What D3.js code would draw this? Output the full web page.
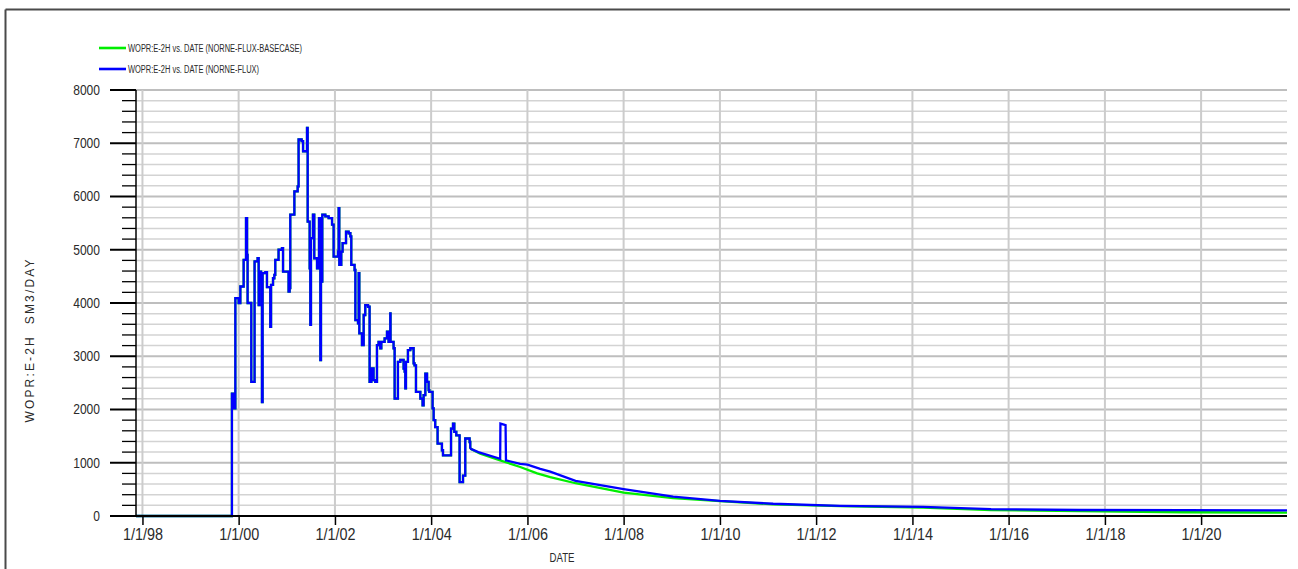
<!DOCTYPE html>
<html>
<head>
<meta charset="utf-8">
<script src="https://cdn.jsdelivr.net/npm/d3@7"></script>
<style>
  html, body { margin: 0; padding: 0; background: #fff; overflow: hidden; }
  svg { display: block; }
  text { font-family: "Liberation Sans Narrow", "Liberation Sans", Arial, sans-serif; fill: #2a2a2a; }
</style>
</head>
<body>
<svg id="chart" width="1298" height="569"></svg>
<script>
// Well E-2H oil production rate, history then forecast
const historyDates = ["1997-11-13","1999-11-11","1999-11-24","1999-12-07","2000-01-01","2000-01-14","2000-02-08","2000-02-26","2000-03-05","2000-03-09","2000-04-06","2000-05-01","2000-05-24","2000-06-01","2000-06-08","2000-06-19","2000-06-26","2000-07-01","2000-07-22","2000-08-03","2000-08-28","2000-09-03","2000-09-18","2000-09-28","2000-10-05","2000-10-30","2000-11-25","2000-12-03","2001-01-14","2001-01-22","2001-01-27","2001-02-27","2001-03-24","2001-03-31","2001-04-23","2001-05-04","2001-06-03","2001-06-08","2001-06-23","2001-06-28","2001-07-03","2001-07-18","2001-07-28","2001-08-18","2001-09-02","2001-09-12","2001-09-17","2001-09-27","2001-10-20","2001-11-14","2001-12-10","2001-12-22","2002-01-24","2002-01-29","2002-02-03","2002-02-18","2002-02-28","2002-03-26","2002-04-15","2002-04-28","2002-05-05","2002-05-30","2002-06-05","2002-06-25","2002-06-30","2002-07-05","2002-07-25","2002-08-07","2002-08-19","2002-09-09","2002-09-21","2002-10-04","2002-10-21","2002-11-03","2002-11-16","2002-11-28","2002-12-11","2002-12-19","2003-01-13","2003-01-31","2003-02-12","2003-02-25","2003-02-27","2003-03-22","2003-03-30","2003-04-24","2003-05-12","2003-06-06","2003-06-14","2003-06-19","2003-06-24","2003-07-09","2003-07-27","2003-08-21","2003-08-28","2003-09-08","2003-10-11","2003-10-28","2003-11-05","2003-11-18","2003-12-01","2003-12-13","2003-12-18","2004-01-12","2004-01-20","2004-02-01","2004-02-19","2004-03-23","2004-03-31","2004-05-31","2004-06-15","2004-06-25","2004-07-10","2004-08-04","2004-08-30","2004-09-16","2004-10-19","2004-10-24"];
const historyRates = [0,2300,2020,4090,4000,4310,4810,5595,4905,4000,2520,4780,4840,3960,4590,4400,2140,4560,4580,4300,3550,4340,4465,4530,4810,5000,5030,4590,4215,4280,5660,6095,6190,7070,7040,6850,7290,5530,4650,3590,5220,5660,4840,4650,5595,2930,4400,5660,5625,5595,5470,4870,4965,5780,4715,4965,5125,5340,5310,5250,4715,4620,3680,3620,4560,3430,3210,3775,3960,3930,2520,2770,2550,2520,3210,3270,3150,3270,3335,3460,3270,3805,3270,3150,2205,2895,2930,2770,2710,2395,2895,3115,3150,2865,2830,2330,2205,2080,2270,2675,2520,2365,2330,2020,1800,1670,1360,1235,1140,1640,1735,1580,1515,635,760,1455,1390,1265];

// NORNE-FLUX forecast
const fluxDates = ["2004-10-24","2004-12-24","2005-06-08","2005-06-10","2005-07-19","2005-07-22","2005-11-07","2006-01-01","2006-04-08","2006-06-23","2007-01-01","2008-01-01","2009-01-11","2010-01-01","2011-02-09","2012-07-02","2014-03-23","2015-08-21","2017-06-19","2019-08-17","2021-10-14"];
const fluxRates = [1265,1200,1075,1735,1705,1045,980,965,885,832,660,505,364,285,230,190,172,130,113,110,106];

// NORNE-FLUX-BASECASE forecast
const baseDates = ["2004-10-24","2005-01-08","2005-06-08","2005-11-07","2006-03-16","2006-06-23","2007-01-01","2008-01-01","2009-01-11","2010-01-01","2011-02-09","2012-07-02","2014-03-23","2015-08-21","2017-06-19","2019-08-17","2021-10-14"];
const baseRates = [1265,1170,1045,920,800,730,615,440,336,280,220,184,160,112,94,70,65];

const xTickDates = ["1998-01-01","2000-01-01","2002-01-01","2004-01-01","2006-01-01","2008-01-01","2010-01-01","2012-01-01","2014-01-01","2016-01-01","2018-01-01","2020-01-01"];
const xTickLabels = ["1/1/98","1/1/00","1/1/02","1/1/04","1/1/06","1/1/08","1/1/10","1/1/12","1/1/14","1/1/16","1/1/18","1/1/20"];
const yMajorTicks = [0,1000,2000,3000,4000,5000,6000,7000,8000];
const yMinorStep = 200;

const legendLabels = ["WOPR:E-2H vs. DATE (NORNE-FLUX-BASECASE)", "WOPR:E-2H vs. DATE (NORNE-FLUX)"];
const yTitle = "WOPR:E-2H  SM3/DAY";
const xTitle = "DATE";

const parse = d3.utcParse("%Y-%m-%d");
const svg = d3.select("#chart");

const plot = { left: 136, right: 1287, top: 90, bottom: 516 };
const x = d3.scaleUtc()
  .domain([parse("1997-11-13"), parse("2021-10-14")])
  .range([plot.left, plot.right]);
const y = d3.scaleLinear().domain([0, 8000]).range([plot.bottom, plot.top]);

// outer frame (top and left edges)
svg.append("line").attr("x1", 5.5).attr("x2", 1290).attr("y1", 9.5).attr("y2", 9.5)
  .attr("stroke", "#4a4a4a").attr("stroke-width", 2);
svg.append("line").attr("x1", 5.5).attr("x2", 5.5).attr("y1", 9.5).attr("y2", 569)
  .attr("stroke", "#4a4a4a").attr("stroke-width", 2);

// grid
const minorVals = d3.range(yMinorStep, 8000 + 1, yMinorStep).filter(v => v % 1000 !== 0);
const grid = svg.append("g");
grid.selectAll("line.minor").data(minorVals).join("line").attr("class", "minor")
  .attr("x1", plot.left).attr("x2", plot.right)
  .attr("y1", d => y(d)).attr("y2", d => y(d))
  .attr("stroke", "#d3d3d3").attr("stroke-width", 1.5);
grid.selectAll("line.major").data(yMajorTicks.filter(v => v > 0)).join("line").attr("class", "major")
  .attr("x1", plot.left).attr("x2", plot.right)
  .attr("y1", d => y(d)).attr("y2", d => y(d))
  .attr("stroke", "#bebebe").attr("stroke-width", 2);
grid.selectAll("line.vert").data(xTickDates.map(parse)).join("line").attr("class", "vert")
  .attr("x1", d => x(d)).attr("x2", d => x(d))
  .attr("y1", plot.top).attr("y2", plot.bottom)
  .attr("stroke", "#cccccc").attr("stroke-width", 2);

// series
const history = historyDates.map((d, i) => ({ date: parse(d), v: historyRates[i] }));
const flux = fluxDates.map((d, i) => ({ date: parse(d), v: fluxRates[i] }));
const base = baseDates.map((d, i) => ({ date: parse(d), v: baseRates[i] }));

const stepLine = d3.line().x(d => x(d.date)).y(d => y(d.v)).curve(d3.curveStepAfter);
const smoothLine = d3.line().x(d => x(d.date)).y(d => y(d.v));

const series = [
  { color: "#00ee00", forecast: base },
  { color: "#0000ff", forecast: flux }
];
series.forEach(s => {
  const g = svg.append("g").attr("fill", "none").attr("stroke", s.color)
    .attr("stroke-width", 2.3).attr("stroke-linejoin", "miter");
  g.append("path").attr("d", stepLine(history));
  g.append("path").attr("d", smoothLine(s.forecast));
});

// y axis
const yAxisG = svg.append("g").attr("transform", `translate(${plot.left},0)`);
yAxisG.append("line").attr("x1", 0).attr("x2", 0).attr("y1", plot.top).attr("y2", plot.bottom)
  .attr("stroke", "#000").attr("stroke-width", 1.5);
yAxisG.selectAll("line.ymin").data(minorVals).join("line").attr("class", "ymin")
  .attr("x1", -14).attr("x2", 0).attr("y1", d => y(d)).attr("y2", d => y(d))
  .attr("stroke", "#000").attr("stroke-width", 1.3);
yAxisG.selectAll("line.ymaj").data(yMajorTicks).join("line").attr("class", "ymaj")
  .attr("x1", -26).attr("x2", 0).attr("y1", d => y(d)).attr("y2", d => y(d))
  .attr("stroke", "#000").attr("stroke-width", 2);
yAxisG.selectAll("text").data(yMajorTicks).join("text")
  .attr("x", -36).attr("y", d => y(d)).attr("dy", "0.35em")
  .attr("text-anchor", "end").attr("font-size", 14)
  .attr("textLength", d => String(d).length * 6.7).attr("lengthAdjust", "spacingAndGlyphs")
  .text(d => d3.format("d")(d));

// x axis
const xAxisG = svg.append("g").attr("transform", `translate(0,${plot.bottom})`);
xAxisG.append("line").attr("x1", 110).attr("x2", plot.right).attr("y1", 0).attr("y2", 0)
  .attr("stroke", "#000").attr("stroke-width", 2);
const xAxis = d3.axisBottom(x)
  .tickValues(xTickDates.map(parse))
  .tickFormat((d, i) => xTickLabels[i])
  .tickSize(9).tickPadding(4);
xAxisG.append("g").call(xAxis).call(g => {
  g.select(".domain").remove();
  g.selectAll(".tick line").attr("stroke", "#000").attr("stroke-width", 1.5);
  g.selectAll(".tick text").attr("font-size", 16).attr("fill", "#2a2a2a")
    .attr("font-family", "'Liberation Sans Narrow','Liberation Sans',Arial,sans-serif")
    .attr("textLength", 40).attr("lengthAdjust", "spacingAndGlyphs");
});

// axis titles
svg.append("text").attr("x", 562).attr("y", 557).attr("dy", "0.35em")
  .attr("text-anchor", "middle").attr("font-size", 13)
  .attr("textLength", 25).attr("lengthAdjust", "spacingAndGlyphs").text(xTitle);
svg.append("text").attr("transform", "translate(30,341) rotate(-90)")
  .attr("text-anchor", "middle").attr("dy", "0.35em")
  .style("font-family", "'Liberation Sans', Arial, sans-serif")
  .style("white-space", "pre")
  .attr("font-size", 12).attr("textLength", 163).attr("lengthAdjust", "spacing")
  .text(yTitle);

// legend
const legendRows = [
  { label: legendLabels[0], color: "#00ee00", y: 48, len: 174 },
  { label: legendLabels[1], color: "#0000ff", y: 69, len: 131 }
];
const lg = svg.append("g");
legendRows.forEach(r => {
  lg.append("line").attr("x1", 99).attr("x2", 126).attr("y1", r.y).attr("y2", r.y)
    .attr("stroke", r.color).attr("stroke-width", 2.6);
  lg.append("text").attr("x", 128).attr("y", r.y).attr("dy", "0.35em")
    .attr("font-size", 10).attr("textLength", r.len).attr("lengthAdjust", "spacingAndGlyphs")
    .text(r.label);
});
</script>
</body>
</html>
